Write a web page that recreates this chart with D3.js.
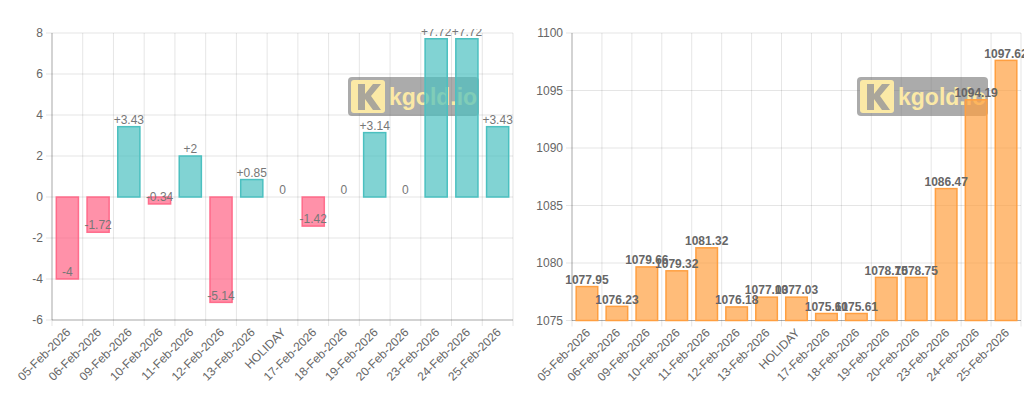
<!DOCTYPE html>
<html>
<head>
<meta charset="utf-8">
<script src="https://cdn.jsdelivr.net/npm/d3@7"></script>
<style>
  body { margin: 0; background: #fff; }
  svg { display: block; font-family: "Liberation Sans", Arial, Helvetica, sans-serif; }
</style>
</head>
<body>
<div id="chart"></div>
<script>
const dates = ["05-Feb-2026", "06-Feb-2026", "09-Feb-2026", "10-Feb-2026", "11-Feb-2026",
    "12-Feb-2026", "13-Feb-2026", "HOLIDAY", "17-Feb-2026", "18-Feb-2026",
    "19-Feb-2026", "20-Feb-2026", "23-Feb-2026", "24-Feb-2026", "25-Feb-2026"];
const changes = [-4, -1.72, 3.43, -0.34, 2, -5.14, 0.85, 0, -1.42, 0, 3.14, 0, 7.72, 7.72, 3.43];
const prices = [1077.95, 1076.23, 1079.66, 1079.32, 1081.32, 1076.18, 1077.03, 1077.03,
    1075.61, 1075.61, 1078.75, 1078.75, 1086.47, 1094.19, 1097.62];
const changeTicks = [-6, -4, -2, 0, 2, 4, 6, 8];
const priceTicks = [1075, 1080, 1085, 1090, 1095, 1100];

const width = 1024;
const height = 399;

const svg = d3.select("#chart").append("svg")
    .attr("width", width)
    .attr("height", height);

const defs = svg.append("defs");

function watermark(g, x, y) {
    const w = g.append("g").attr("transform", `translate(${x},${y})`);
    w.append("rect")
        .attr("width", 131).attr("height", 39).attr("rx", 4)
        .attr("fill", "rgba(115,115,115,0.6)");
    w.append("rect")
        .attr("x", 3).attr("y", 3).attr("width", 34).attr("height", 33).attr("rx", 3)
        .attr("fill", "#fbe9a6");
    // the K mark
    w.append("path")
        .attr("d", "M10,7 L17,7 L17,17 L25,7 L33,7 L23,19 L33,33 L25,33 L17,22 L17,33 L10,33 Z")
        .attr("fill", "#aaa69b");
    w.append("text")
        .attr("x", 41).attr("y", 28)
        .attr("font-size", 23).attr("font-weight", "bold")
        .attr("fill", "#fbe9a6")
        .text("kgold.io");
}

function drawChart(cfg) {
    const g = svg.append("g");

    const x = d3.scaleBand()
        .domain(dates)
        .range([cfg.left, cfg.right]);

    const y = d3.scaleLinear()
        .domain(cfg.domain)
        .range([cfg.bottom, cfg.top]);

    // grid
    g.append("g").selectAll("line.h")
        .data(cfg.ticks)
        .join("line")
        .attr("x1", cfg.left - 6).attr("x2", cfg.right)
        .attr("y1", d => y(d)).attr("y2", d => y(d))
        .attr("stroke", "rgba(0,0,0,0.1)");

    const vx = dates.map(d => x(d)).concat([cfg.right]);
    g.append("g").selectAll("line.v")
        .data(vx)
        .join("line")
        .attr("x1", d => d).attr("x2", d => d)
        .attr("y1", cfg.top).attr("y2", cfg.bottom + 6)
        .attr("stroke", "rgba(0,0,0,0.1)");

    // axis borders
    g.append("line")
        .attr("x1", cfg.left).attr("x2", cfg.left)
        .attr("y1", cfg.top).attr("y2", cfg.bottom)
        .attr("stroke", "rgba(0,0,0,0.25)");
    g.append("line")
        .attr("x1", cfg.left).attr("x2", cfg.right)
        .attr("y1", cfg.bottom).attr("y2", cfg.bottom)
        .attr("stroke", "rgba(0,0,0,0.25)");

    // y tick labels
    g.append("g").selectAll("text")
        .data(cfg.ticks)
        .join("text")
        .attr("x", cfg.left - 9)
        .attr("y", d => y(d))
        .attr("dy", "0.35em")
        .attr("text-anchor", "end")
        .attr("font-size", 12)
        .attr("fill", "#666")
        .text(d => d);

    // x tick labels
    g.append("g").selectAll("text")
        .data(dates)
        .join("text")
        .attr("transform", d => `translate(${x(d) + x.bandwidth() / 2 + 1},${cfg.bottom + 10}) rotate(-45)`)
        .attr("text-anchor", "end")
        .attr("dy", "0.35em")
        .attr("font-size", 12)
        .attr("fill", "#666")
        .text(d => d);

    watermark(g, cfg.wmX, cfg.wmY);

    // bars
    const bw = x.bandwidth() * 0.72;
    const base = cfg.base;
    g.append("g").selectAll("rect")
        .data(cfg.values)
        .join("rect")
        .attr("x", (d, i) => x(dates[i]) + (x.bandwidth() - bw) / 2)
        .attr("y", d => Math.min(y(d), y(base)))
        .attr("width", bw)
        .attr("height", d => Math.abs(y(d) - y(base)))
        .attr("fill", d => cfg.color(d).fill)
        .attr("stroke", d => cfg.color(d).stroke)
        .attr("stroke-width", 1.5);

    // value labels
    const clipId = "clip" + cfg.left;
    defs.append("clipPath").attr("id", clipId)
        .append("rect")
        .attr("x", cfg.left - 20).attr("y", 29)
        .attr("width", cfg.right - cfg.left + 40).attr("height", cfg.bottom - 29);

    g.append("g")
        .attr("clip-path", `url(#${clipId})`)
        .selectAll("text")
        .data(cfg.values)
        .join("text")
        .attr("x", (d, i) => x(dates[i]) + x.bandwidth() / 2)
        .attr("y", d => y(d) - 7)
        .attr("dy", "0.35em")
        .attr("text-anchor", "middle")
        .attr("font-size", 12)
        .attr("font-weight", cfg.bold ? "bold" : "normal")
        .attr("fill", cfg.bold ? "#666" : "#777")
        .text(cfg.format);
}

drawChart({
    left: 52, right: 513, top: 33, bottom: 320,
    domain: [-6, 8], ticks: changeTicks, base: 0,
    values: changes,
    wmX: 348, wmY: 77,
    bold: false,
    format: d => d > 0 ? "+" + d : String(d),
    color: d => d < 0
        ? { fill: "rgba(255,99,132,0.7)", stroke: "rgba(255,99,132,0.9)" }
        : { fill: "rgba(75,192,192,0.7)", stroke: "rgba(75,192,192,1)" }
});

drawChart({
    left: 572, right: 1021, top: 33, bottom: 320.5,
    domain: [1075, 1100], ticks: priceTicks, base: 1075,
    values: prices,
    wmX: 857, wmY: 77,
    bold: true,
    format: d => String(d),
    color: d => ({ fill: "rgba(255,159,64,0.7)", stroke: "rgba(255,159,64,1)" })
});
</script>
</body>
</html>
